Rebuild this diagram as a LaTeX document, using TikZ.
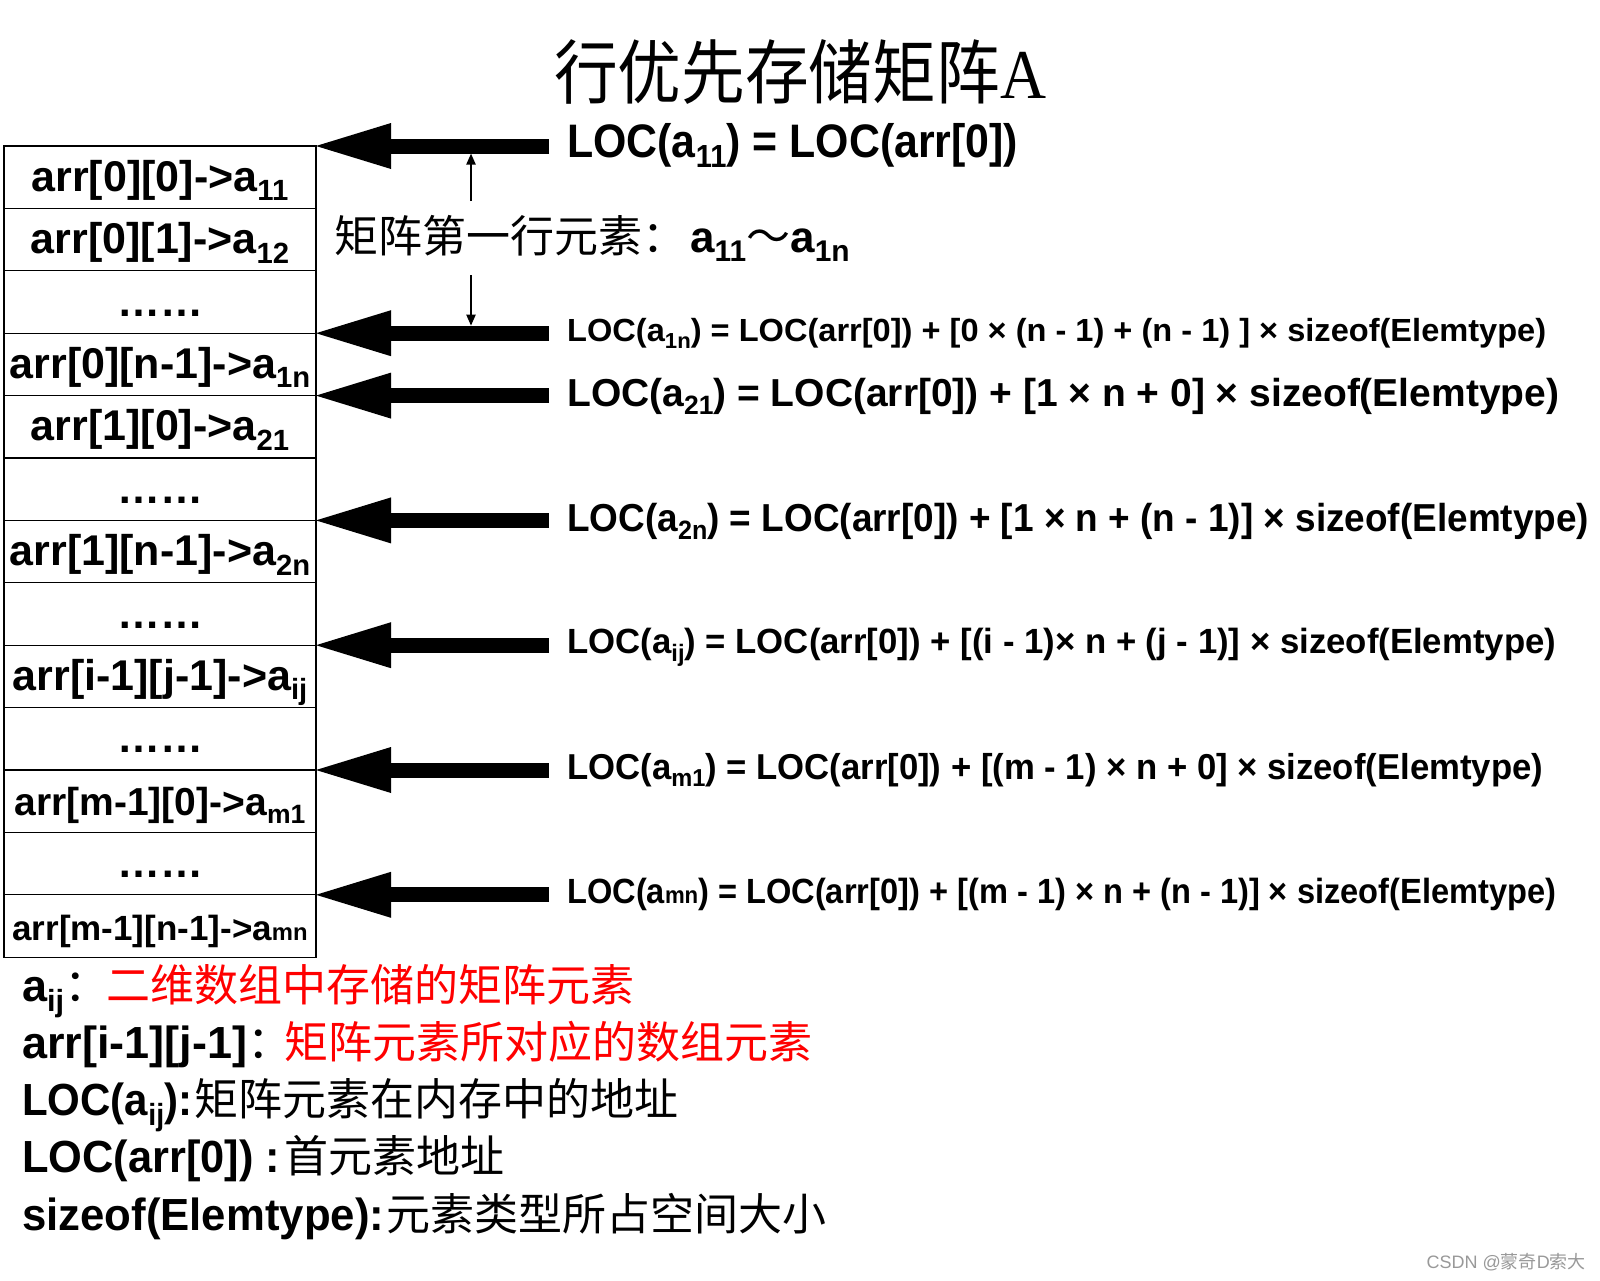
\documentclass[tikz,border=0pt]{standalone}
\usepackage{fontspec}
\usepackage{graphicx}
\setmainfont{Liberation Sans}
\newfontfamily\cjk{Noto Sans CJK SC}
\newfontfamily\serifA{Liberation Serif}
\usetikzlibrary{arrows.meta}
\newcommand\sbs[1]{\raisebox{-0.22em}{\scalebox{0.68}{#1}}}
\newcommand\sml[1]{\scalebox{0.68}{#1}}
\newcommand\fitw[2]{\resizebox{#1}{\height}{#2}}
\newcommand\fs[1]{\fontsize{#1}{#1}\selectfont}
\begin{document}
\begin{tikzpicture}[x=1pt,y=-1pt,
  cellbox/.style={draw, line width=1.3pt, anchor=north west, minimum width=312pt,
    minimum height=62.4pt, inner sep=0pt, outer sep=0pt, text height=28pt, text depth=0pt,
    font=\fs{43}\bfseries},
  fml/.style={anchor=base west, inner sep=0pt, font=\bfseries},
  leg/.style={anchor=base west, inner sep=0pt, font=\fs{45}\bfseries},
  legcn/.style={anchor=base west, inner sep=0pt, font=\fs{44}\cjk},
  bigarr/.style={line width=15pt, -{Triangle[length=75pt,width=46pt,line width=0pt]}},
  thinarr/.style={line width=2pt, -{Triangle[length=11pt,width=9pt]}}
]
\fill[white] (0,0) rectangle (1600,1280);
\useasboundingbox (0,0) rectangle (1600,1280);

% title
\node[anchor=base, inner sep=0pt, font=\fs{70}] (title) at (800,98) {\fitw{492pt}{{\cjk 行优先存储矩阵}{\serifA A}}};

% table cells
\node[cellbox] (c1) at (4,146) {arr[0][0]->a\sbs{11}};
\node[cellbox] (c2) at (4,208.4) {arr[0][1]->a\sbs{12}};
\node[cellbox] (c3) at (4,270.8) {……};
\node[cellbox] (c4) at (4,333.2) {arr[0][n-1]->a\sbs{1n}};
\node[cellbox] (c5) at (4,395.6) {arr[1][0]->a\sbs{21}};
\node[cellbox] (c6) at (4,458) {……};
\node[cellbox] (c7) at (4,520.4) {arr[1][n-1]->a\sbs{2n}};
\node[cellbox] (c8) at (4,582.8) {……};
\node[cellbox] (c9) at (4,645.2) {arr[i-1][j-1]->a\sbs{ij}};
\node[cellbox] (c10) at (4,707.6) {……};
\node[cellbox, font=\fs{39}\bfseries] (c11) at (4,770) {arr[m-1][0]->a\sbs{m1}};
\node[cellbox] (c12) at (4,832.4) {……};
\node[cellbox, font=\fs{35}\bfseries] (c13) at (4,894.8) {arr[m-1][n-1]->a\sml{mn}};

% arrow sources
\coordinate (s1) at (549,146);
\coordinate (s4) at (549,333.2);
\coordinate (s5) at (549,395.6);
\coordinate (s7) at (549,520.4);
\coordinate (s9) at (549,645.2);
\coordinate (s11) at (549,770);
\coordinate (s13) at (549,894.8);
\draw[bigarr] (s1) -- (c1.north east);
\draw[bigarr] (s4) -- (c4.north east);
\draw[bigarr] (s5) -- (c5.north east);
\draw[bigarr] (s7) -- (c7.north east);
\draw[bigarr] (s9) -- (c9.north east);
\draw[bigarr] (s11) -- (c11.north east);
\draw[bigarr] (s13) -- (c13.north east);

% formulas
\node[fml] (f1) at (567,157) {\fs{47}\fitw{451pt}{LOC(a\sbs{11}) = LOC(arr[0])}};
\node[fml] (f4) at (567,341.5) {\fs{32}\fitw{979pt}{LOC(a\sbs{1n}) = LOC(arr[0]) + [0 × (n - 1) + (n - 1) ] × sizeof(Elemtype)}};
\node[fml] (f5) at (567,406) {\fs{39}\fitw{992pt}{LOC(a\sbs{21}) = LOC(arr[0]) + [1 × n + 0] × sizeof(Elemtype)}};
\node[fml] (f7) at (567,531) {\fs{39}\fitw{1022pt}{LOC(a\sbs{2n}) = LOC(arr[0]) + [1 × n + (n - 1)] × sizeof(Elemtype)}};
\node[fml] (f9) at (567,653.5) {\fs{35}\fitw{989pt}{LOC(a\sbs{ij}) = LOC(arr[0]) + [(i - 1)× n + (j - 1)] × sizeof(Elemtype)}};
\node[fml] (f11) at (567,779) {\fs{36}\fitw{976pt}{LOC(a\sbs{m1}) = LOC(arr[0]) + [(m - 1) × n + 0] × sizeof(Elemtype)}};
\node[fml] (f13) at (567,903.5) {\fs{35}\fitw{989pt}{LOC(a\sml{mn}) = LOC(arr[0]) + [(m - 1) × n + (n - 1)] × sizeof(Elemtype)}};

% first-row label and thin arrows
\node[anchor=base west, inner sep=0pt, font=\fs{44}] (lbl) at (334,252)
  {{\cjk 矩阵第一行元素：}\hspace{4pt}{\bfseries a\sbs{11}{\cjk\mdseries ～}a\sbs{1n}}};
\coordinate (ua) at (471,201);
\coordinate (ub) at (471,153.5);
\coordinate (da) at (471,275);
\coordinate (db) at (471,325.7);
\draw[thinarr] (ua) -- (ub);
\draw[thinarr] (da) -- (db);

% legend
\node[leg] (l1) at (22,1001.5) {a\sbs{ij}{\cjk\mdseries ：}};
\node[legcn, text=red] (l1c) at (106,1001.5) {二维数组中存储的矩阵元素};
\node[leg] (l2) at (22,1058.5) {arr[i-1][j-1]{\cjk\mdseries ：}};
\node[legcn, text=red] (l2c) at (284,1058.5) {矩阵元素所对应的数组元素};
\node[leg] (l3) at (22,1115.5) {\fitw{170pt}{LOC(a\sbs{ij}):}};
\node[legcn] (l3c) at (194,1115.5) {矩阵元素在内存中的地址};
\node[leg] (l4) at (22,1172.5) {\fitw{258pt}{LOC(arr[0]) :}};
\node[legcn] (l4c) at (284,1172.5) {首元素地址};
\node[leg] (l5) at (22,1230.5) {\fitw{362pt}{sizeof(Elemtype):}};
\node[legcn] (l5c) at (386,1230.5) {元素类型所占空间大小};

% watermark
\node[anchor=base east, inner sep=0pt, text=black!40, font=\fs{18}] (wm) at (1586,1268)
  {CSDN @{\cjk 蒙奇}D{\cjk 索大}};
\end{tikzpicture}
\end{document}
